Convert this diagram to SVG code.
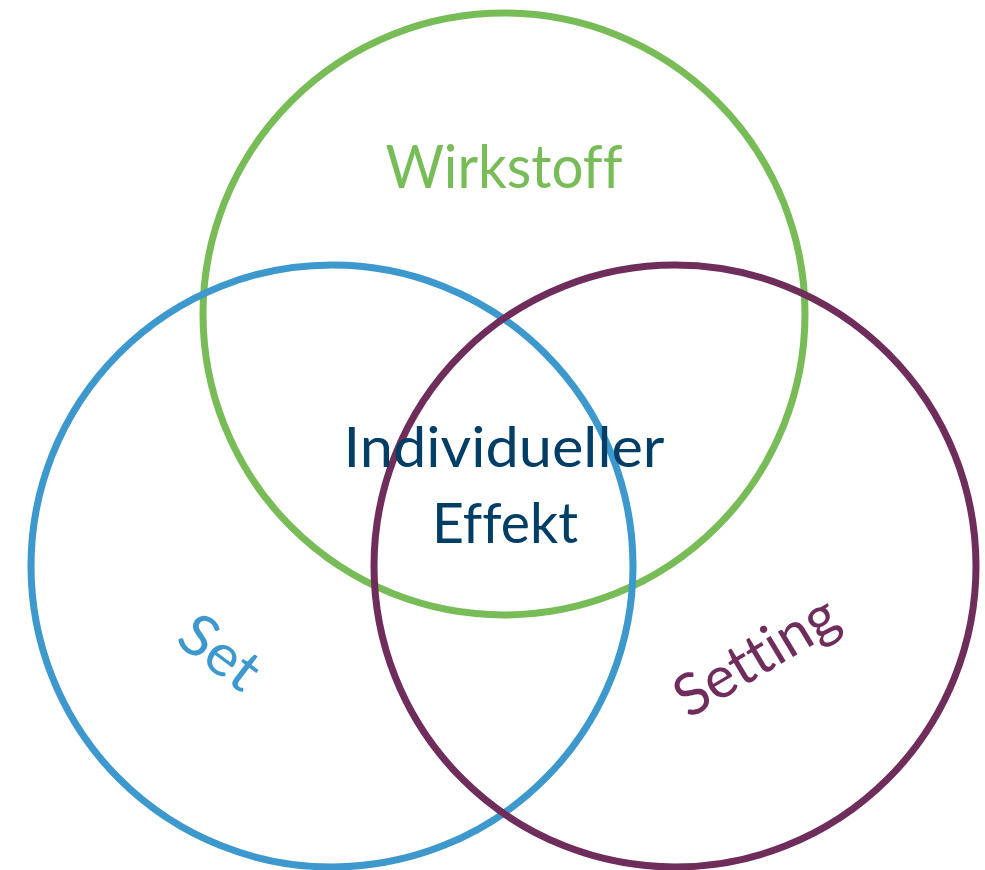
<svg xmlns="http://www.w3.org/2000/svg" width="985" height="870" viewBox="0 0 985 870">
<style>
.c{fill:none;stroke-width:7}
text{font-family:Lato,"Open Sans","Liberation Sans",sans-serif;text-anchor:middle;font-variant-ligatures:none;font-feature-settings:"liga" 0}
</style>
<rect width="985" height="870" fill="#fff"/>
<g id="wirkstoff">
<circle class="c" cx="504" cy="314" r="301" stroke="#77BC57"/>
<text x="504" y="188" font-size="60" fill="#77BC57" textLength="237" lengthAdjust="spacingAndGlyphs">Wirkstoff</text>
</g>
<g id="set">
<circle class="c" cx="332" cy="566" r="301" stroke="#3C98CD"/>
<text transform="translate(208,668) rotate(37)" font-size="58" fill="#3C98CD" textLength="86" lengthAdjust="spacingAndGlyphs">Set</text>
</g>
<g id="setting">
<circle class="c" cx="675" cy="566" r="301" stroke="#6E2D5A"/>
<text transform="translate(766,673) rotate(-31)" font-size="58" fill="#6E2D5A" textLength="180" lengthAdjust="spacingAndGlyphs">Setting</text>
</g>
<g id="effekt">
<text x="504" y="467" font-size="57" fill="#003E66" textLength="321" lengthAdjust="spacingAndGlyphs">Individueller</text>
<text x="505" y="543" font-size="57" fill="#003E66" textLength="146" lengthAdjust="spacingAndGlyphs">Effekt</text>
</g>
</svg>
